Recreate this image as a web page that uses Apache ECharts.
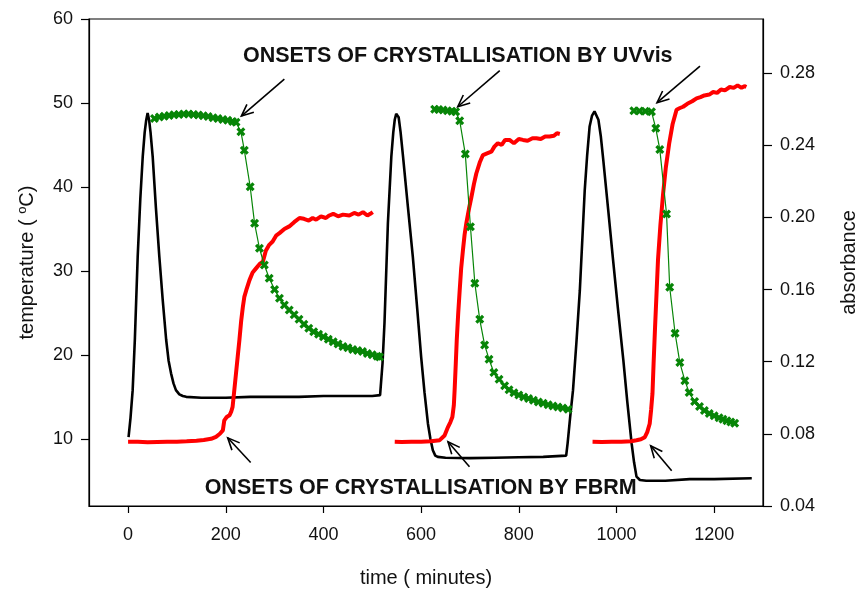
<!DOCTYPE html>
<html>
<head>
<meta charset="utf-8">
<script src="https://cdn.jsdelivr.net/npm/echarts@6/dist/echarts.min.js"></script>
<style>
  html, body { margin: 0; padding: 0; background: #fff; }
  #chart { width: 858px; height: 590px; }
</style>
</head>
<body>
<div id="chart"></div>
<script>
// tick labels
const timeTicks = [0, 200, 400, 600, 800, 1000, 1200];
const tempTicks = [10, 20, 30, 40, 50, 60];
const absTicks = [0.04, 0.08, 0.12, 0.16, 0.20, 0.24, 0.28];

// temperature (black), [time, degC]
const temperature = [
  [1, 10.2], [5, 12.5], [9.4, 15.8], [14, 22], [19.7, 31.7], [25, 38.5], [30, 43.6], [34, 46.5],
  [37, 47.9], [40, 48.8], [43, 48], [46, 46.5], [50.4, 43.6], [57, 37.5], [64, 31.7], [71, 26.5],
  [78, 21.8], [83, 19.3], [88, 17.8], [93, 16.6], [98, 15.8], [105, 15.3], [112, 15.1], [119, 15.0],
  [150, 14.9], [200, 14.9], [250, 15.0], [300, 15.0], [350, 15.0], [400, 15.1], [450, 15.1], [500, 15.1],
  [516, 15.2], [518, 15.4], [521, 19], [525, 23.8], [532, 35.7], [539, 43.6], [543, 46.5], [546, 48.0],
  [549, 48.7], [551, 48.8], [554, 48.3], [558, 46.5], [563, 43.6], [573, 37.6], [583, 31.7], [592, 25.5],
  [600, 19.8], [607, 15.5], [614, 11.8], [619, 10], [624, 8.65], [629, 8.0], [634, 7.85], [650, 7.75],
  [700, 7.7], [750, 7.75], [800, 7.8], [850, 7.85], [897, 8.0], [900, 9.5], [905, 12.5], [911, 15.8],
  [918, 21.5], [925, 27.7], [935, 39.6], [940, 43.8], [945, 47.2], [950, 48.5], [955, 49.0], [959, 49.0],
  [963, 48], [968, 46], [973, 43.2], [983, 37.3], [993, 31.3], [1003, 25.5], [1014, 19.4], [1022, 14.5],
  [1031, 9.45], [1036, 7.2], [1041, 5.5], [1048, 5.1], [1061, 5.0], [1100, 5.0], [1150, 5.2], [1200, 5.2],
  [1277, 5.3]
];

// FBRM counts (red), plotted on the temperature scale
const fbrmRun1 = [
  [0, 9.64], [20, 9.64], [40, 9.6], [60, 9.62], [80, 9.64], [100, 9.66], [120, 9.7], [140, 9.78],
  [155, 9.86], [170, 10.0], [180, 10.24], [188, 10.6], [194, 11.0], [197, 12.2], [202, 12.6], [207.6, 12.8],
  [211, 13.2], [214, 13.8], [217, 15.5], [221, 17.8], [224.5, 19.8], [228, 21.8], [231.5, 24], [235, 25.7],
  [238, 26.9], [242, 27.7], [248.6, 28.9], [255, 29.8], [262, 30.3], [269, 30.8], [276, 31.1], [282, 32.4],
  [289, 33.1], [296, 33.5], [303, 34.2], [310, 34.5], [320, 35.0], [330, 35.3], [340, 35.8], [351, 36.3],
  [360, 36.2], [370, 36.0], [378, 36.3], [385, 36.1], [395, 36.5], [405, 36.3], [412, 36.6], [420, 36.8],
  [430, 36.5], [440, 36.7], [453, 36.6], [463, 36.9], [472, 36.7], [481, 37.0], [490, 36.6], [496, 36.8],
  [501, 37.0]
];
const fbrmRun2 = [
  [546, 9.64], [560, 9.62], [580, 9.64], [600, 9.66], [620, 9.72], [638, 9.84], [648, 10.4], [655, 11.4],
  [660, 12.0], [664, 12.6], [667, 14], [668.6, 15.8], [671, 19], [673, 21.8], [676, 25], [679, 27.7],
  [682, 30.3], [685.7, 32.5], [689, 34.3], [692.6, 35.7], [698, 37.4], [703, 38.8], [708, 40.3], [713, 41.6],
  [720, 42.9], [726.6, 43.8], [735, 44.0], [743.8, 44.2], [750, 44.8], [757, 45.2], [765, 45.0], [772, 45.6],
  [781, 45.6], [790, 45.2], [800, 45.7], [808.6, 45.6], [818, 45.5], [828, 45.8], [836, 45.8], [845, 45.7],
  [854, 46.0], [863, 46.0], [872, 46.1], [878, 46.4], [884, 46.3]
];
const fbrmRun3 = [
  [951, 9.64], [970, 9.62], [990, 9.64], [1010, 9.66], [1030, 9.72], [1041, 9.84], [1050, 9.95], [1058, 10.2],
  [1063, 10.8], [1068, 11.8], [1071, 13.5], [1073.7, 15.4], [1076, 19], [1079, 23.3], [1082, 27.3], [1085, 31.3],
  [1090, 35.5], [1095.5, 39.2], [1101, 42.3], [1108, 45.2], [1115, 47.5], [1123, 49.2], [1130, 49.4], [1136.5, 49.55],
  [1145, 49.9], [1155, 50.2], [1164, 50.55], [1172, 50.7], [1180, 50.9], [1190, 51.0], [1198, 51.3], [1206, 51.2],
  [1214, 51.6], [1222, 51.5], [1232, 51.9], [1240, 51.8], [1248, 52.1], [1256, 51.8], [1262, 52.0], [1266, 51.9]
];

// UVvis absorbance (green)
const uvRun1 = [
  [54, 0.2549], [64, 0.2556], [74, 0.2561], [84, 0.2565], [94, 0.2569], [104, 0.2571], [114, 0.2573], [124, 0.2573],
  [134, 0.2571], [144, 0.2568], [154, 0.2564], [164, 0.2559], [174, 0.2553], [184, 0.2548], [194, 0.2543], [204, 0.2538],
  [214, 0.2532], [221, 0.2527], [231, 0.2475], [238, 0.2373], [250, 0.217], [259, 0.1967], [269, 0.1829], [279, 0.1736],
  [289, 0.1663], [300, 0.16], [310, 0.1552], [320, 0.1515], [330, 0.1487], [340, 0.146], [350, 0.1435], [360, 0.1408],
  [370, 0.1385], [380, 0.1366], [390, 0.1352], [400, 0.1338], [410, 0.1325], [420, 0.1311], [430, 0.1298], [440, 0.1284],
  [450, 0.1277], [460, 0.1268], [470, 0.1262], [480, 0.1256], [490, 0.1246], [500, 0.1238], [510, 0.123], [515, 0.1226]
];
const uvRun2 = [
  [627.7, 0.2599], [636, 0.2598], [645, 0.2595], [654, 0.2592], [663, 0.2589], [670.7, 0.2586], [679, 0.2536], [690.5, 0.2351],
  [701, 0.1948], [710, 0.1635], [720, 0.1435], [730, 0.1293], [739, 0.1214], [749, 0.114], [759.6, 0.1103], [771, 0.1066],
  [780, 0.1045], [790, 0.1028], [800, 0.1015], [810, 0.1005], [820, 0.0996], [830, 0.0986], [840, 0.0977], [850, 0.0969],
  [860, 0.0962], [870, 0.0955], [880, 0.0949], [890, 0.0943], [901, 0.0937]
];
const uvRun3 = [
  [1035.5, 0.2591], [1047, 0.259], [1059, 0.2588], [1071.7, 0.2586], [1080.5, 0.2494], [1088.7, 0.2377], [1102.5, 0.2019], [1109, 0.1613],
  [1120, 0.1358], [1129.7, 0.1195], [1140, 0.1095], [1148.8, 0.1029], [1160, 0.0979], [1170, 0.0952], [1180, 0.093], [1190, 0.0913],
  [1200, 0.09], [1210, 0.0889], [1218, 0.0881], [1226, 0.0873], [1234, 0.0866], [1242, 0.0859]
];

const font = "'Liberation Sans', Arial, sans-serif";
// bold "x" marker
const cross = 'path://M2.5,0 L5,2.5 L7.5,0 L10,2.5 L7.5,5 L10,7.5 L7.5,10 L5,7.5 L2.5,10 L0,7.5 L2.5,5 L0,2.5 Z';

const chart = echarts.init(document.getElementById('chart'));

function redLine(data) {
  return {
    type: 'line', yAxisIndex: 0, data: data, showSymbol: false, symbol: 'none',
    lineStyle: { color: '#ff0000', width: 4 }, z: 3
  };
}
function greenLine(data) {
  return {
    type: 'line', yAxisIndex: 1, data: data, symbol: cross, symbolSize: 9,
    itemStyle: { color: '#078507' },
    lineStyle: { color: '#078507', width: 1.2 }, z: 4
  };
}

const option = {
  animation: false,
  grid: {
    left: 89, right: 95, top: 19, bottom: 84,
    show: true, borderColor: '#000', borderWidth: 1.2,
    outerBoundsMode: 'none'
  },
  xAxis: {
    type: 'value', min: -80, max: 1300,
    name: 'time ( minutes)', nameLocation: 'middle', nameGap: 62,
    nameTextStyle: { fontFamily: font, fontSize: 20, color: '#111' },
    axisLine: { onZero: false, lineStyle: { color: '#000', width: 1.2 } },
    axisTick: { customValues: timeTicks, length: 7, lineStyle: { color: '#000', width: 1.2 } },
    axisLabel: {
      customValues: timeTicks, margin: 20, fontFamily: font, fontSize: 18, color: '#111',
      formatter: function (v) { return String(v); }
    },
    splitLine: { show: false }
  },
  yAxis: [
    {
      type: 'value', min: 2, max: 60, position: 'left',
      name: 'temperature ( {sup|o}C)', nameLocation: 'middle', nameGap: 51, nameRotate: 90,
      nameTextStyle: {
        fontFamily: font, fontSize: 20, color: '#111',
        rich: { sup: { fontFamily: font, fontSize: 13, color: '#111', padding: [0, 0, 9, 0] } }
      },
      axisLine: { show: true, onZero: false, lineStyle: { color: '#000', width: 1.2 } },
      axisTick: { customValues: tempTicks, length: 8, lineStyle: { color: '#000', width: 1.2 } },
      axisLabel: { customValues: tempTicks, margin: 16, fontFamily: font, fontSize: 18, color: '#111' },
      splitLine: { show: false }
    },
    {
      type: 'value', min: 0.04, max: 0.31, position: 'right',
      name: 'absorbance', nameLocation: 'middle', nameGap: 76, nameRotate: 90,
      nameTextStyle: { fontFamily: font, fontSize: 20, color: '#111' },
      axisLine: { show: true, onZero: false, lineStyle: { color: '#000', width: 1.2 } },
      axisTick: { customValues: absTicks, length: 9, lineStyle: { color: '#000', width: 1.2 } },
      axisLabel: {
        customValues: absTicks, margin: 17, fontFamily: font, fontSize: 18, color: '#111',
        formatter: function (v) { return v.toFixed(2); }
      },
      splitLine: { show: false }
    }
  ],
  series: [
    {
      type: 'line', yAxisIndex: 0, data: temperature, showSymbol: false, symbol: 'none',
      lineStyle: { color: '#000', width: 2.6 }, z: 2
    },
    redLine(fbrmRun1), redLine(fbrmRun2), redLine(fbrmRun3),
    greenLine(uvRun1), greenLine(uvRun2), greenLine(uvRun3)
  ]
};
chart.setOption(option);

// annotations, in time / temperature units: [tail, head]
const uvArrows = [
  [[320, 52.85], [232, 48.44]],
  [[761, 53.84], [675, 49.55]],
  [[1171, 54.4], [1083, 50.03]]
];
const fbrmArrows = [
  [[251, 7.19], [204, 10.12]],
  [[699, 6.67], [655, 9.64]],
  [[1113, 6.19], [1070, 9.17]]
];
const labels = [
  { text: 'ONSETS OF CRYSTALLISATION BY UVvis', at: [675, 55.6] },
  { text: 'ONSETS OF CRYSTALLISATION BY FBRM', at: [599, 4.13] }
];

function px(p) {
  return chart.convertToPixel({ xAxisIndex: 0, yAxisIndex: 0 }, p);
}

const elements = [];
uvArrows.concat(fbrmArrows).forEach(function (a) {
  const t = px(a[0]), h = px(a[1]);
  const ang = Math.atan2(t[1] - h[1], t[0] - h[0]);
  const len = 13, spread = 0.42;
  const w1 = [h[0] + len * Math.cos(ang + spread), h[1] + len * Math.sin(ang + spread)];
  const w2 = [h[0] + len * Math.cos(ang - spread), h[1] + len * Math.sin(ang - spread)];
  const st = { stroke: '#000', lineWidth: 1.6, fill: null };
  elements.push({ type: 'line', shape: { x1: t[0], y1: t[1], x2: h[0], y2: h[1] }, style: st, z: 10 });
  elements.push({ type: 'polyline', shape: { points: [w1, h, w2] }, style: st, z: 10 });
});
labels.forEach(function (l) {
  const p = px(l.at);
  elements.push({
    type: 'text', x: p[0], y: p[1], z: 10,
    style: {
      text: l.text, fill: '#111', font: 'bold 21.5px ' + font,
      align: 'center', verticalAlign: 'middle'
    }
  });
});
chart.setOption({ graphic: { elements: elements } });
</script>
</body>
</html>
